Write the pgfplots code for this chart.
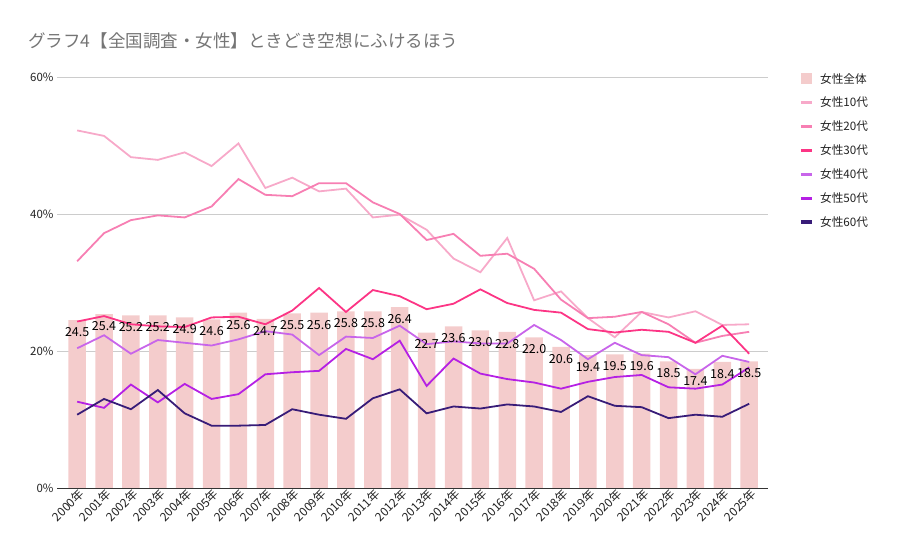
\documentclass[border=0pt]{standalone}
\usepackage{fontspec}
\setmainfont{Noto Sans CJK JP}
\usepackage{pgfplots}
\usepackage{pgfplotstable}
\pgfplotsset{compat=1.18}
\definecolor{barc}{HTML}{F4CCCC}
\definecolor{cA}{HTML}{F7A9C9}
\definecolor{cB}{HTML}{F77FB3}
\definecolor{cC}{HTML}{FC3585}
\definecolor{cD}{HTML}{C865EA}
\definecolor{cE}{HTML}{B520E4}
\definecolor{cF}{HTML}{381C78}
\definecolor{titlegray}{HTML}{757575}
\definecolor{txt}{HTML}{222222}
\definecolor{gridc}{HTML}{CCCCCC}
\pgfplotstableread{
x all f10 f20 f30 f40 f50 f60
0 24.5 52.2 33.1 24.3 20.4 12.6 10.7
1 25.4 51.4 37.2 25.1 22.3 11.7 13.0
2 25.2 48.3 39.1 23.9 19.6 15.1 11.5
3 25.2 47.9 39.8 23.6 21.6 12.5 14.3
4 24.9 49.0 39.5 23.5 21.2 15.2 10.9
5 24.6 47.0 41.1 24.9 20.8 13.0 9.1
6 25.6 50.3 45.1 25.0 21.7 13.7 9.1
7 24.7 43.8 42.8 23.9 22.9 16.6 9.2
8 25.5 45.3 42.6 25.9 22.4 16.9 11.5
9 25.6 43.3 44.5 29.2 19.4 17.1 10.7
10 25.8 43.7 44.5 25.7 22.1 20.3 10.1
11 25.8 39.5 41.7 28.9 21.9 18.8 13.1
12 26.4 39.9 40.0 28.0 23.7 21.5 14.4
13 22.7 37.7 36.2 26.1 21.0 14.9 10.9
14 23.6 33.5 37.1 26.9 21.4 18.9 11.9
15 23.0 31.5 33.9 29.0 21.1 16.7 11.6
16 22.8 36.5 34.2 27.0 21.1 15.9 12.2
17 22.0 27.4 32.0 26.0 23.8 15.4 11.9
18 20.6 28.7 27.5 25.6 21.6 14.5 11.1
19 19.4 24.8 24.8 23.2 18.8 15.5 13.4
20 19.5 22.0 25.0 22.7 21.2 16.2 12.0
21 19.6 25.7 25.7 23.1 19.4 16.5 11.8
22 18.5 24.9 23.9 22.8 19.1 14.7 10.2
23 17.4 25.8 21.2 21.2 16.6 14.5 10.7
24 18.4 23.8 22.2 23.7 19.3 15.1 10.4
25 18.5 23.9 22.8 19.6 18.4 17.6 12.3
}\data
\begin{document}
\begin{tikzpicture}
\useasboundingbox (0,0) rectangle (897bp,555bp);
\node[anchor=base west, inner sep=0, text=titlegray, font=\fontsize{17.6}{20}\selectfont] at (28bp,507bp) {グラフ4【全国調査・女性】ときどき空想にふけるほう};
\begin{axis}[
  at={(57bp,67bp)}, anchor=south west,
  scale only axis, width=711bp, height=411bp,
  xmin=-0.75, xmax=25.7, ymin=0, ymax=60,
  /pgf/number format/assume math mode=true,
  axis x line*=bottom, axis y line*=left,
  x axis line style={draw=black!80, line width=0.8pt, -},
  y axis line style={draw=none},
  ytick={0,20,40,60},
  yticklabel={\pgfmathprintnumber{\tick}\%},
  ymajorgrids, grid style={gridc, line width=0.8pt},
  major tick length=0,
  xtick={0,...,25},
  xticklabels={2000年,2001年,2002年,2003年,2004年,2005年,2006年,2007年,2008年,2009年,2010年,2011年,2012年,2013年,2014年,2015年,2016年,2017年,2018年,2019年,2020年,2021年,2022年,2023年,2024年,2025年},
  xticklabel style={rotate=45, anchor=east, font=\fontsize{12}{13}\selectfont, text=txt, xshift=4bp, yshift=-6bp},
  yticklabel style={font=\fontsize{11.5}{13}\selectfont, text=txt},
  legend style={at={(axis description cs:1,1)}, anchor=north west, xshift=31bp, yshift=6bp, draw=none, fill=none,
    font=\fontsize{11.7}{14}\selectfont, text=txt, row sep=8.6bp, column sep=4bp, inner sep=0pt},
  legend cell align=left,
  every axis plot/.append style={line width=1.8pt},
]
\addplot[ybar, bar width=17.5bp, fill=barc, draw=none,
  legend image code/.code={\fill[barc] (0bp,-5.5bp) rectangle (11.5bp,5.5bp);}]
  table[x=x,y=all]{\data};
\addlegendentry{女性全体}
\pgfplotsset{legend image code/.code={\draw[#1, line width=3.4bp] (0bp,0bp) -- (11.5bp,0bp);}}
\addplot[cA, no marks] table[x=x,y=f10]{\data};
\addlegendentry{女性10代}
\addplot[cB, no marks] table[x=x,y=f20]{\data};
\addlegendentry{女性20代}
\addplot[cC, no marks] table[x=x,y=f30]{\data};
\addlegendentry{女性30代}
\addplot[cD, no marks] table[x=x,y=f40]{\data};
\addlegendentry{女性40代}
\addplot[cE, no marks] table[x=x,y=f50]{\data};
\addlegendentry{女性50代}
\addplot[cF, no marks] table[x=x,y=f60]{\data};
\addlegendentry{女性60代}
\addplot[draw=none, no marks, forget plot,
  nodes near coords={\pgfmathprintnumber[fixed, fixed zerofill, precision=1]{\pgfplotspointmeta}},
  point meta=y,
  every node near coord/.append style={anchor=center, yshift=-12bp, text=black, font=\fontsize{12.5}{14}\selectfont}]
  table[x=x,y=all]{\data};
\end{axis}
\end{tikzpicture}
\end{document}
